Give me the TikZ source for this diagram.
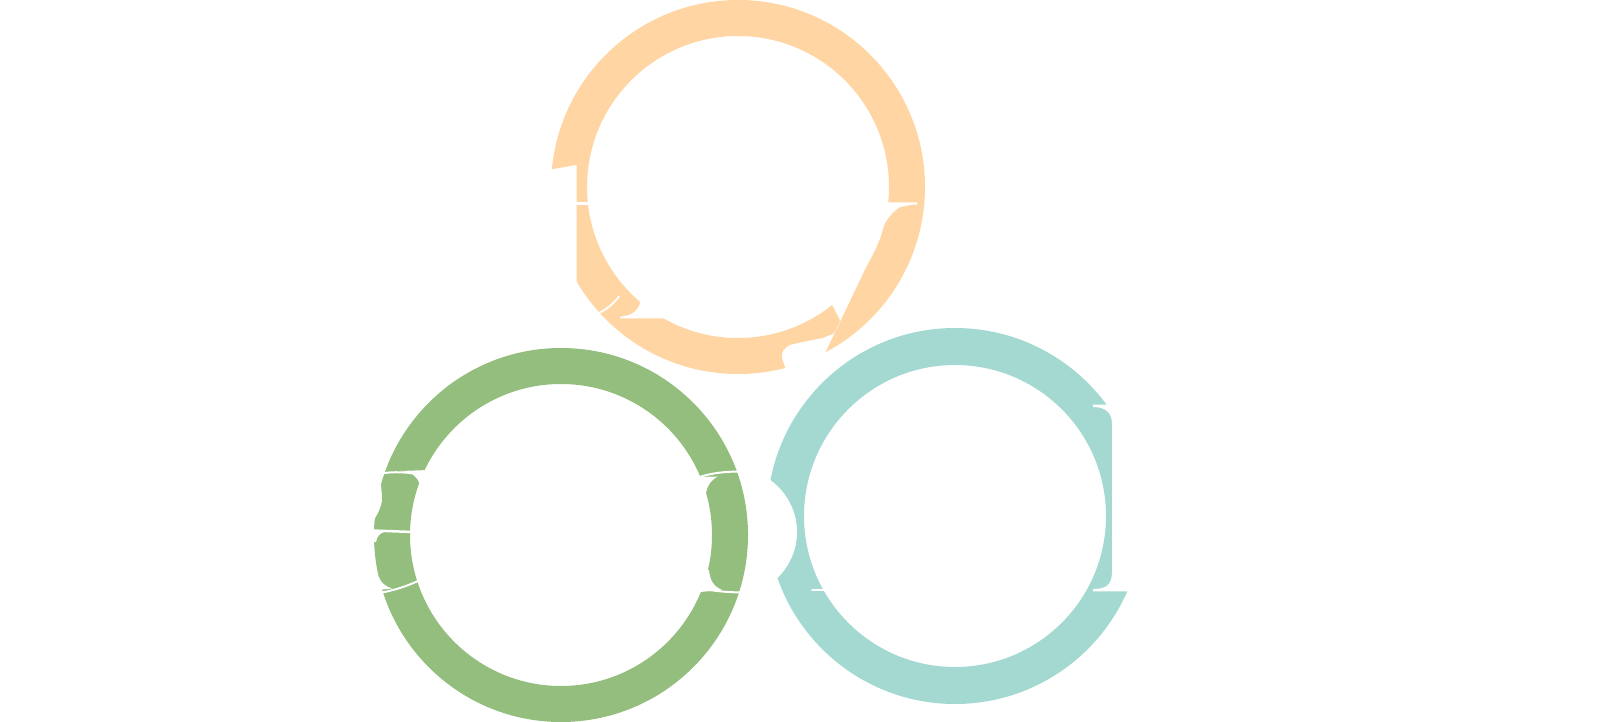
\documentclass[tikz,border=0pt]{standalone}
\definecolor{ringorange}{HTML}{FFD6A3}
\definecolor{ringgreen}{HTML}{93BE7E}
\definecolor{ringteal}{HTML}{A4D9D2}
\begin{document}
\begin{tikzpicture}[x=1pt,y=-1pt,
  ringfill/.style={even odd rule},
  cutout/.style={fill=white,draw=none},
  hairline/.style={draw=white,line cap=round,line width=#1},
  hairline/.default=2pt]
\useasboundingbox (0,0) rectangle (1600,722);
\fill[white] (0,0) rectangle (1600,722);
\coordinate (cO) at (738,187);
\coordinate (cG) at (561,535);
\coordinate (cT) at (955,516);
% rings
\fill[ringorange,ringfill] (cO) circle[radius=187pt] (cO) circle[radius=151pt];
\fill[ringgreen,ringfill] (cG) circle[radius=187pt] (cG) circle[radius=151pt];
\fill[ringteal,ringfill] (cT) circle[radius=188pt] (cT) circle[radius=151pt];
% cut-outs on the orange ring
\begin{scope}
\clip (cO) circle[radius=189pt];
\fill[cutout] (530,172) -- (551,169.5) -- (576.5,165) -- (576.5,300) -- (530,300) -- cycle;
\draw[hairline=3.5pt] (576,203.7) -- (592,203.7);
\draw[hairline=1.8pt] (619,296.5) .. controls (613,304) and (607,309) .. (599,313);
\fill[cutout] (641,298) .. controls (640,309) and (634,315.5) .. (620,316.8) -- (620,318.3) -- (672,318.3) -- (672,298) -- cycle;
\fill[cutout] (917,202.5) -- (880,202.5) -- (831.7,304) -- (840,320)
  .. controls (839,326) and (837,330) .. (833,334) -- (823,338) -- (803,342) -- (790,345)
  .. controls (784,348) and (781,353) .. (782,357) .. controls (783,362) and (785,366) .. (788,376)
  -- (822,376) -- (825,353) -- (880,238)
  .. controls (882,226) and (888,215) .. (900,207) -- (912,204.6) -- (917,204.6) -- cycle;
\end{scope}
% cut-outs on the green ring
\begin{scope}
\clip (cG) circle[radius=189pt];
\draw[hairline=2pt] (380,473.5) .. controls (394,471.5) and (408,471.5) .. (425,476);
\fill[cutout] (400,471) .. controls (412,472) and (417,476) .. (419.5,484) -- (430,484) -- (430,470) -- cycle;
\fill[cutout] (370,472) -- (382,474) .. controls (379,485) and (384,497) .. (381,505) .. controls (379,512) and (376,516) .. (374,520) -- (370,520) -- cycle;
\draw[hairline=2.5pt] (372,530.5) -- (413,532);
\fill[cutout] (372,531) -- (384,532) .. controls (379,534) and (377,537) .. (376,542) -- (372,542) -- cycle;
\fill[cutout] (370,575) -- (379,577) .. controls (381,583) and (385,586) .. (392,588.5) -- (370,591) -- cycle;
\draw[hairline=2pt] (382,592.5) .. controls (395,590) and (408,586) .. (421,579.5);
\draw[hairline=2pt] (697,478) .. controls (710,473) and (725,471.5) .. (741,471.5);
\fill[cutout] (700,477) -- (718,476.5) .. controls (711,480) and (708,484) .. (706,493) -- (700,493) -- cycle;
\fill[cutout] (703,570) -- (709,570) .. controls (710,580) and (713,586) .. (722,590) -- (700,592) -- cycle;
\draw[hairline=2pt] (700,588) .. controls (712,591) and (728,592.5) .. (746,592.5);
\end{scope}
% cut-outs on the teal ring
\begin{scope}
\clip (cT) circle[radius=190pt];
\fill[cutout] (730,532) ellipse[x radius=67pt, y radius=65pt];
\draw[hairline=1.5pt] (812,590) -- (826,590);
\fill[cutout] (1093,404.5) -- (1160,404.5) -- (1160,591.3) -- (1093,591.3) -- (1093,589)
  .. controls (1106,589) and (1112,585) .. (1112,572) -- (1112,424)
  .. controls (1112,413) and (1106,407) .. (1093,407) -- cycle;
\end{scope}
\end{tikzpicture}
\end{document}
